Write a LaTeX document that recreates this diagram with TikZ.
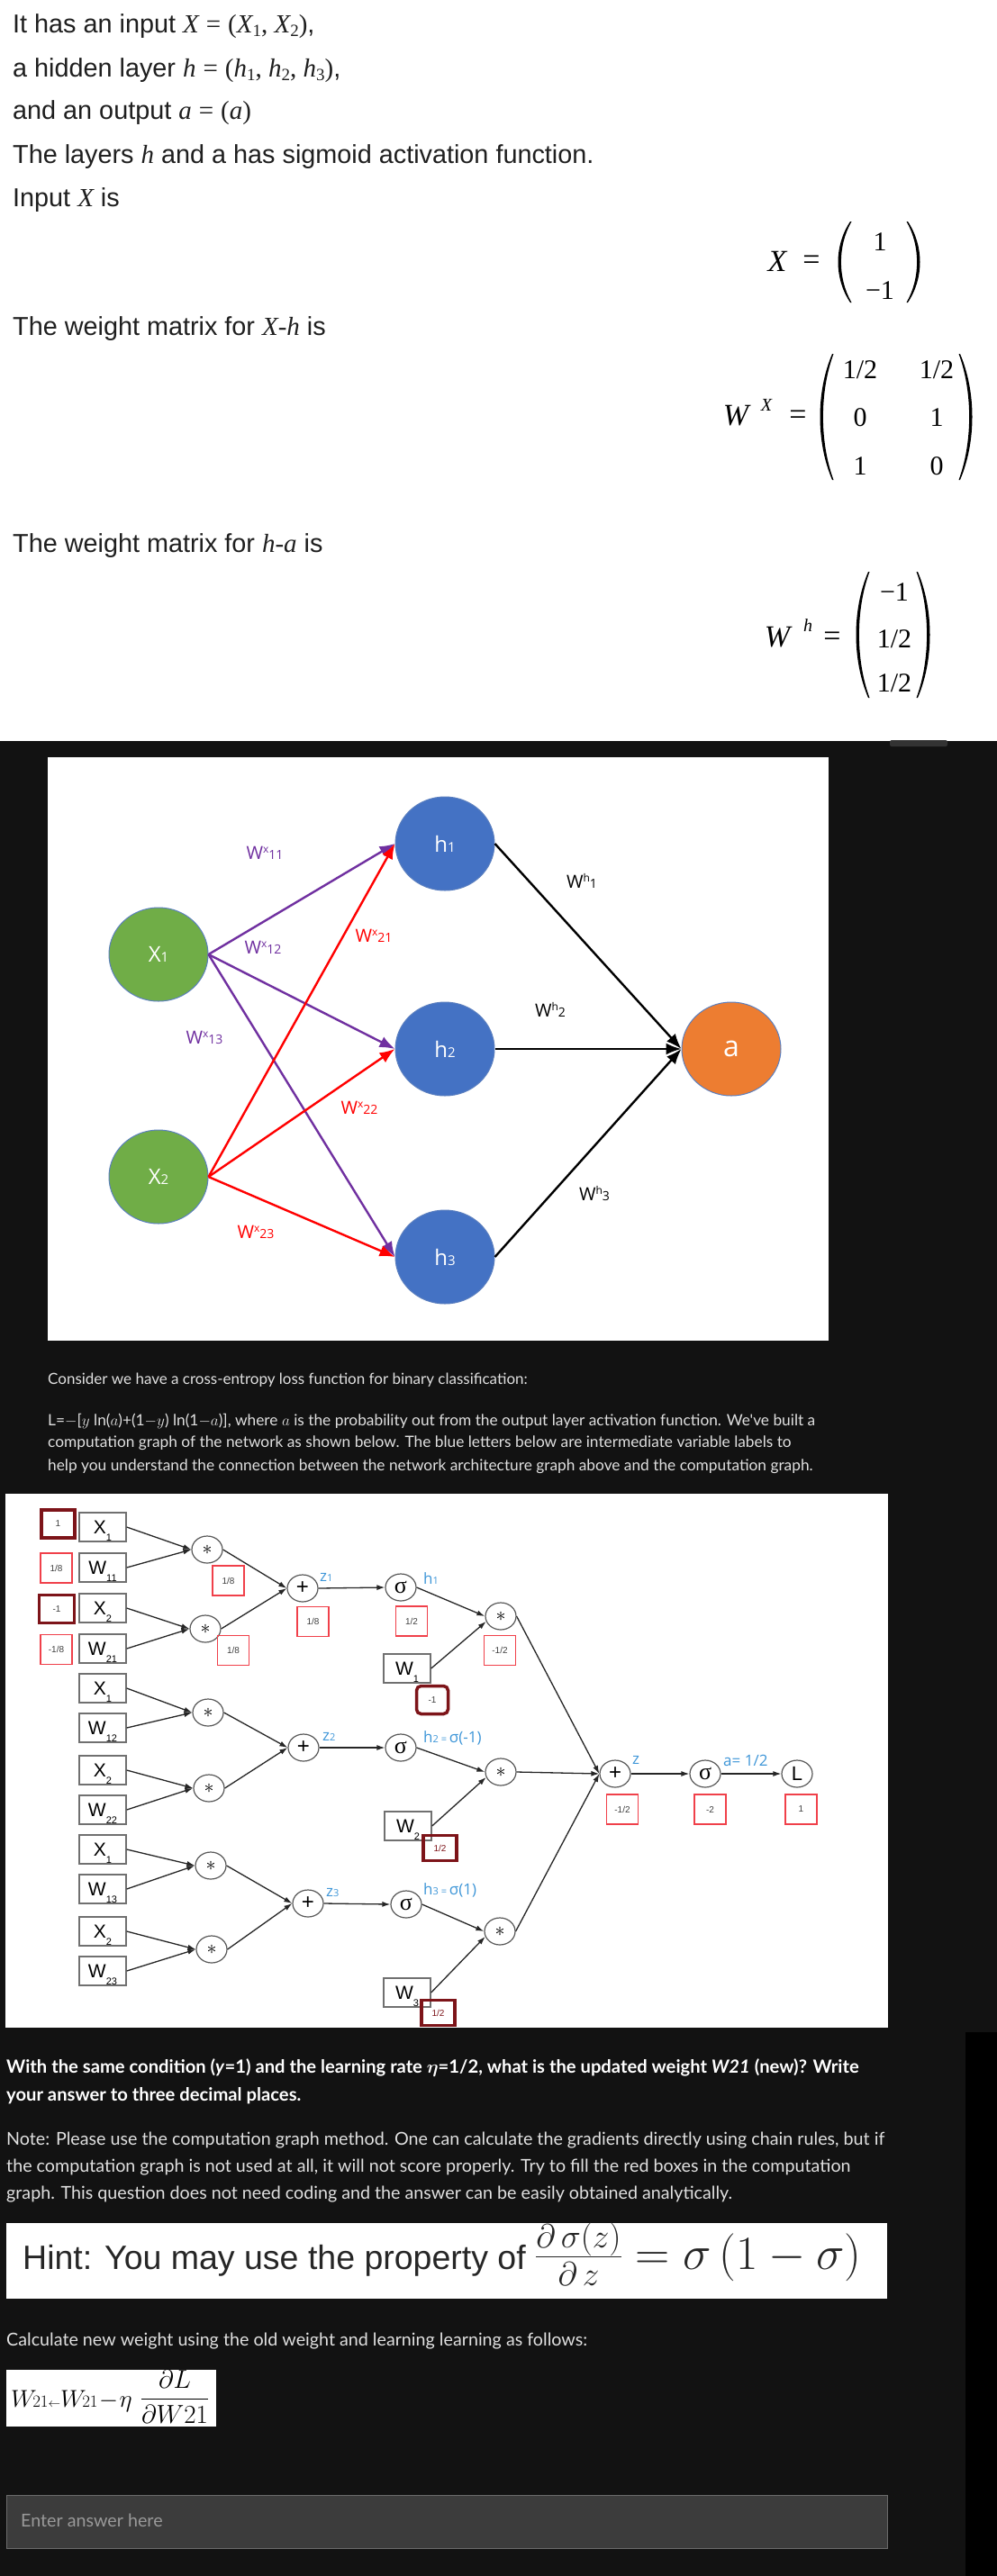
\RequirePackage{fix-cm}
\documentclass[tikz,border=0pt]{standalone}
\usepackage{amsmath}
\usepackage{fontspec}
\setmainfont{Liberation Sans}
\newfontfamily\lato{Lato}
\newfontfamily\osans{Open Sans}
\newfontfamily\lserif{Liberation Serif}
\usetikzlibrary{shapes.geometric,arrows.meta}
\definecolor{bgdark}{HTML}{121212}
\definecolor{gx}{HTML}{70AD47}
\definecolor{bh}{HTML}{4472C4}
\definecolor{oa}{HTML}{ED7D31}
\definecolor{edgeblue}{HTML}{5B7FBF}
\definecolor{purp}{HTML}{7030A0}
\definecolor{lblue}{HTML}{3E96D8}
\definecolor{rbox}{HTML}{F0404A}
\definecolor{drbox}{HTML}{7D1419}
\definecolor{gbox}{HTML}{707070}
\definecolor{txtl}{HTML}{E0E0E0}
\definecolor{scrl}{HTML}{333333}
\definecolor{ansbg}{HTML}{3C3C3C}
\definecolor{ansbd}{HTML}{6A6A6A}
\newcommand\fsz[1]{\fontsize{#1}{#1}\selectfont}
\newcommand\ibx[2]{#1\raisebox{-8pt}[0pt][0pt]{\fsz{11}#2}}
\newcommand\mi[1]{{\lserif\itshape\fsz{29}#1}}
\newcommand\mr[1]{{\lserif\fsz{29}#1}}
\newcommand\ms[1]{{\lserif\fsz{19}\raisebox{-4pt}{#1}}}
\newcommand\meq{\mr{\hspace{8pt}=\hspace{8pt}}}
\newcommand\lpar[3]{\fill (#1,#2) .. controls +(-18,{0.3*(#3-#2)}) and +(-18,{-0.3*(#3-#2)}) .. (#1,#3)
   -- (#1+1.5,#3) .. controls +(-15.5,{-0.3*(#3-#2)}) and +(-15.5,{0.3*(#3-#2)}) .. (#1+1.5,#2) -- cycle;}
\newcommand\rpar[3]{\fill (#1,#2) .. controls +(18,{0.3*(#3-#2)}) and +(18,{-0.3*(#3-#2)}) .. (#1,#3)
   -- (#1-1.5,#3) .. controls +(15.5,{-0.3*(#3-#2)}) and +(15.5,{0.3*(#3-#2)}) .. (#1-1.5,#2) -- cycle;}
\begin{document}
\begin{tikzpicture}[x=1pt,y=-1pt,
  txt/.style={anchor=base west, inner sep=0pt, text=black!88, font=\fsz{28.8}},
  mtx/.style={inner sep=0pt, font=\lserif\fsz{30}},
  dtxt/.style={anchor=base west, inner sep=0pt, text=txtl, font=\lato\fsz{17.3}},
  btxt/.style={anchor=base west, inner sep=0pt, text=txtl, font=\lato\fsz{19.7}},
  netn/.style={ellipse, minimum width=110pt, minimum height=104pt, inner sep=0pt, draw=edgeblue, line width=1pt, text=white, font=\osans\fsz{24}},
  nlab/.style={inner sep=0pt, font=\osans\fsz{20}},
  parr/.style={line width=2.4pt, -{Latex[length=17pt,width=13pt]}},
  inbox/.style={draw=gbox, line width=1.4pt, minimum width=52pt, minimum height=32pt, inner sep=0pt, font=\fsz{21}},
  opn/.style={ellipse, draw=black!65, line width=1.2pt, minimum width=34pt, minimum height=30pt, inner sep=0pt, fill=white},
  rb/.style={draw=rbox, line width=1.5pt, minimum width=35pt, minimum height=33pt, inner sep=0pt, font=\fsz{10}, text=black!75},
  drb/.style={draw=drbox, line width=3.5pt, minimum width=37pt, minimum height=31pt, inner sep=0pt, font=\fsz{10}, text=black!75},
  carr/.style={line width=1.3pt, draw=black!85, -{Latex[length=9pt,width=6pt]}},
  blab/.style={anchor=west, inner sep=0pt, text=lblue, font=\osans\fsz{17}},
]
% backgrounds
\fill[white] (0,0) rectangle (1107,823);
\fill[bgdark] (0,823) rectangle (1107,2861);
\fill[black] (1072,2257) rectangle (1107,2861);
\fill[scrl, rounded corners=2pt] (988,822) rectangle (1052,829);
\fill[white] (53,841) rectangle (920,1489);
\fill[white] (6,1659) rectangle (986,2252);
\fill[white] (7,2469) rectangle (985,2553);
\fill[white] (7,2632) rectangle (240,2695);
\filldraw[fill=ansbg, draw=ansbd, line width=1pt] (7,2771) rectangle (985,2830);

% top text
\node[txt] (t1) at (14,37) {It has an input \mi{X}\meq\mr{(}\mi{X}\ms{1}\mr{, }\mi{X}\ms{2}\mr{)},};
\node[txt] (t2) at (14,85) {a hidden layer \mi{h}\meq\mr{(}\mi{h}\ms{1}\mr{, }\mi{h}\ms{2}\mr{, }\mi{h}\ms{3}\mr{)},};
\node[txt] (t3) at (14,132) {and an output \mi{a}\meq\mr{(}\mi{a}\mr{)}};
\node[txt] (t4) at (14,181) {The layers \mi{h} and a has sigmoid activation function.};
\node[txt] (t5) at (14,229) {Input \mi{X} is};
\node[txt] (t6) at (14,372) {The weight matrix for \mi{X}\mr{-}\mi{h} is};
\node[txt] (t7) at (14,613) {The weight matrix for \mi{h}\mr{-}\mi{a} is};

% matrices
\node[mtx, font=\lserif\itshape\fsz{34}] (xx) at (863,290) {X};
\node[mtx, font=\lserif\fsz{34}] (xeq) at (901,292) {=};
\lpar{944}{246}{336}
\rpar{1008}{246}{336}
\node[mtx] (x11) at (977,269) {1};
\node[mtx] (x21) at (977,323) {−1};

\node[mtx, font=\lserif\itshape\fsz{34}] (wx) at (817,462) {W};
\node[mtx, font=\lserif\itshape\fsz{20}] (wxs) at (851,450) {X};
\node[mtx, font=\lserif\fsz{34}] (wxeq) at (886,464) {=};
\lpar{924}{393}{533}
\rpar{1066}{393}{533}
\node[mtx] (a11) at (955,411) {1/2};
\node[mtx] (a12) at (1040,411) {1/2};
\node[mtx] (a21) at (955,464) {0};
\node[mtx] (a22) at (1040,464) {1};
\node[mtx] (a31) at (955,518) {1};
\node[mtx] (a32) at (1040,518) {0};

\node[mtx, font=\lserif\itshape\fsz{34}] (wh) at (863,708) {W};
\node[mtx, font=\lserif\itshape\fsz{20}] (whs) at (897,695) {h};
\node[mtx, font=\lserif\fsz{34}] (wheq) at (924,710) {=};
\lpar{964}{635}{775}
\rpar{1019}{635}{775}
\node[mtx] (b1) at (993,658) {−1};
\node[mtx] (b2) at (993,710) {1/2};
\node[mtx] (b3) at (993,759) {1/2};

% network
\node[netn, fill=gx] (x1) at (176,1060) {X{\fsz{15}1}};
\node[netn, fill=gx] (x2) at (176,1307) {X{\fsz{15}2}};
\node[netn, fill=bh] (h1) at (494,937) {h{\fsz{15}1}};
\node[netn, fill=bh] (h2) at (494,1165) {h{\fsz{15}2}};
\node[netn, fill=bh] (h3) at (494,1396) {h{\fsz{15}3}};
\node[netn, fill=oa, font=\osans\fsz{32}] (a) at (812,1165) {a};
\foreach \t in {h1,h2,h3} \draw[parr, purp] (x1.east) -- (\t.west);
\foreach \t in {h1,h2,h3} \draw[parr, red] (x2.east) -- (\t.west);
\foreach \t in {h1,h2,h3} \draw[parr, black] (\t.east) -- (a.west);
\node[nlab, text=purp] (l11) at (294,947) {W\raisebox{7pt}{\fsz{12}x}{\fsz{14}11}};
\node[nlab, text=purp] (l12) at (292,1052) {W\raisebox{7pt}{\fsz{12}x}{\fsz{14}12}};
\node[nlab, text=purp] (l13) at (227,1152) {W\raisebox{7pt}{\fsz{12}x}{\fsz{14}13}};
\node[nlab, text=red] (l21) at (415,1039) {W\raisebox{7pt}{\fsz{12}x}{\fsz{14}21}};
\node[nlab, text=red] (l22) at (399,1230) {W\raisebox{7pt}{\fsz{12}x}{\fsz{14}22}};
\node[nlab, text=red] (l23) at (284,1368) {W\raisebox{7pt}{\fsz{12}x}{\fsz{14}23}};
\node[nlab] (lh1) at (646,978) {W\raisebox{7pt}{\fsz{12}h}{\fsz{14}1}};
\node[nlab] (lh2) at (611,1121) {W\raisebox{7pt}{\fsz{12}h}{\fsz{14}2}};
\node[nlab] (lh3) at (660,1325) {W\raisebox{7pt}{\fsz{12}h}{\fsz{14}3}};

% paragraph
\node[dtxt, font=\lato\fsz{17}] (c1) at (53,1537) {Consider we have a cross-entropy loss function for binary classification:};
\node[dtxt] (c2) at (53,1583) {L=$-$[$y$ ln($a$)+(1$-y$) ln(1$-a$)], where $a$ is the probability out from the output layer activation function. We've built a};
\node[dtxt] (c3) at (53,1607) {computation graph of the network as shown below. The blue letters below are intermediate variable labels to};
\node[dtxt] (c4) at (53,1633) {help you understand the connection between the network architecture graph above and the computation graph.};

% computation graph: inputs
\node[inbox] (ib1) at (114,1696) {\ibx{X}{1}};
\node[inbox] (ib2) at (114,1741) {\ibx{W}{11}};
\node[inbox] (ib3) at (114,1786) {\ibx{X}{2}};
\node[inbox] (ib4) at (114,1831) {\ibx{W}{21}};
\node[inbox] (ib5) at (114,1875) {\ibx{X}{1}};
\node[inbox] (ib6) at (114,1919) {\ibx{W}{12}};
\node[inbox] (ib7) at (114,1966) {\ibx{X}{2}};
\node[inbox] (ib8) at (114,2010) {\ibx{W}{22}};
\node[inbox] (ib9) at (114,2054) {\ibx{X}{1}};
\node[inbox] (ib10) at (114,2098) {\ibx{W}{13}};
\node[inbox] (ib11) at (114,2145) {\ibx{X}{2}};
\node[inbox] (ib12) at (114,2189) {\ibx{W}{23}};
% ops
\node[opn] (m1) at (230,1721) {\fsz{22}$\ast$};
\node[opn] (m2) at (228,1809) {\fsz{22}$\ast$};
\node[opn] (m3) at (231,1902) {\fsz{22}$\ast$};
\node[opn] (m4) at (232,1986) {\fsz{22}$\ast$};
\node[opn] (m5) at (234,2072) {\fsz{22}$\ast$};
\node[opn] (m6) at (235,2165) {\fsz{22}$\ast$};
\node[opn] (p1) at (336,1764) {\fsz{24}+};
\node[opn] (p2) at (337,1941) {\fsz{24}+};
\node[opn] (p3) at (342,2114) {\fsz{24}+};
\node[opn] (s1) at (445,1763) {\lserif\fsz{26}σ};
\node[opn] (s2) at (445,1941) {\lserif\fsz{26}σ};
\node[opn] (s3) at (451,2115) {\lserif\fsz{26}σ};
\node[inbox] (w1) at (452,1853) {\ibx{W}{1}};
\node[inbox] (w2) at (453,2028) {\ibx{W}{2}};
\node[inbox] (w3) at (452,2213) {\ibx{W}{3}};
\node[opn] (mh1) at (556,1795) {\fsz{22}$\ast$};
\node[opn] (mh2) at (556,1968) {\fsz{22}$\ast$};
\node[opn] (mh3) at (555,2145) {\fsz{22}$\ast$};
\node[opn] (pf) at (683,1970) {\fsz{24}+};
\node[opn] (sf) at (783,1970) {\lserif\fsz{26}σ};
\node[opn] (lf) at (885,1970) {\fsz{22}L};
% connectors
\foreach \s/\t in {ib1/m1,ib2/m1,ib3/m2,ib4/m2,ib5/m3,ib6/m3,ib7/m4,ib8/m4,ib9/m5,ib10/m5,ib11/m6,ib12/m6,
                   m1/p1,m2/p1,m3/p2,m4/p2,m5/p3,m6/p3,p1/s1,p2/s2,p3/s3,s1/mh1,s2/mh2,s3/mh3,
                   mh1/pf,mh2/pf,mh3/pf,pf/sf,sf/lf}
  \draw[carr] (\s.east) -- (\t.west);
\draw[carr] (w1.east) -- (mh1.200);
\draw[carr] (w2.east) -- (mh2.200);
\draw[carr] (w3.east) -- (mh3.200);
% value boxes
\node[drb] (d1) at (64.5,1692.5) {1};
\node[rb] (r1) at (62.5,1741.5) {1/8};
\node[drb, minimum width=39pt] (d2) at (63,1787) {-1};
\node[rb] (r2) at (62.5,1832) {-1/8};
\node[rb] (rm1) at (253.5,1755.5) {1/8};
\node[rb] (rm2) at (259,1833) {1/8};
\node[rb] (rp1) at (347.5,1801) {1/8};
\node[rb] (rs1) at (457,1800.5) {1/2};
\node[rb] (rmh1) at (555,1833) {-1/2};
\node[drb, rounded corners=5pt, minimum width=35pt] (dw1) at (480,1888) {-1};
\node[drb, minimum height=28pt, text=drbox] (dw2) at (488.5,2052.5) {1/2};
\node[drb, minimum height=28pt, text=drbox] (dw3) at (486.5,2235.5) {1/2};
\node[rb] (rpf) at (691,2009.5) {-1/2};
\node[rb] (rsf) at (788.5,2009.5) {-2};
\node[rb] (rlf) at (889.5,2009.5) {1};
% blue labels
\node[blab] (bz1) at (355,1752) {z{\fsz{11}1}};
\node[blab] (bh1) at (470,1753) {h{\fsz{11}1}};
\node[blab] (bz2) at (358,1929) {z{\fsz{11}2}};
\node[blab] (bh2) at (470,1930) {h{\fsz{11}2 =}\,σ(-1)};
\node[blab] (bz3) at (362,2102) {z{\fsz{11}3}};
\node[blab] (bh3) at (470,2099) {h{\fsz{11}3 =}\,σ(1)};
\node[blab] (bz) at (702,1955) {z};
\node[blab] (ba) at (803,1955) {a= 1/2};

% question text
\node[btxt, font=\lato\bfseries\fsz{20.2}, text=white] (q1) at (7,2302) {With the same condition (\textit{y}=1) and the learning rate $\boldsymbol{\eta}$=1/2, what is the updated weight \textit{W21} (new)? Write};
\node[btxt, font=\lato\bfseries\fsz{20.2}, text=white] (q2) at (7,2333) {your answer to three decimal places.};
\node[btxt] (n1) at (7,2382) {Note: Please use the computation graph method. One can calculate the gradients directly using chain rules, but if};
\node[btxt] (n2) at (7,2412) {the computation graph is not used at all, it will not score properly. Try to fill the red boxes in the computation};
\node[btxt] (n3) at (7,2442) {graph. This question does not need coding and the answer can be easily obtained analytically.};
\node[anchor=base west, inner sep=0pt, font=\fsz{37.5}, text=black!85] (hint) at (25,2520) {Hint: You may use the property of {\fsz{53}$\frac{\partial\,\sigma(z)}{\partial\,z}=\sigma\,(1-\sigma)$}};
\node[btxt] (calc) at (7,2605) {Calculate new weight using the old weight and learning learning as follows:};
\node[anchor=west, inner sep=0pt, font=\fsz{27}] (f1) at (12,2667) {$W\!{\scriptstyle 21}{\scriptscriptstyle\leftarrow}W\!{\scriptstyle 21}\!-\!\eta$};
\node[inner sep=0pt, font=\fsz{29}] (f2) at (194,2662) {$\dfrac{\partial L}{\partial W21}$};
\node[btxt, text=black!40!white] (ans) at (23,2806) {Enter answer here};
\end{tikzpicture}
\end{document}
